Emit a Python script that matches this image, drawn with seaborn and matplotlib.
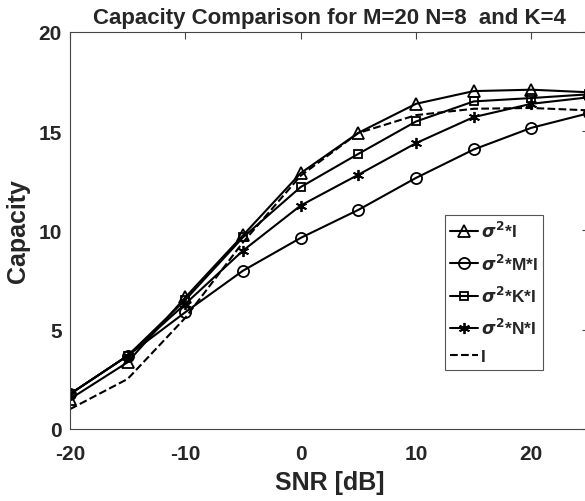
import numpy as np
import pandas as pd
import matplotlib
matplotlib.use("Agg")
import matplotlib.pyplot as plt
import seaborn as sns

snr = [-20, -15, -10, -5, 0, 5, 10, 15, 20, 25]
cap_sigma_I = [1.51, 3.36, 6.63, 9.75, 12.88, 14.91, 16.37, 17.01, 17.08, 16.95]
cap_sigma_MI = [1.76, 3.69, 5.88, 7.97, 9.62, 11.03, 12.64, 14.07, 15.16, 15.9]
cap_sigma_KI = [1.76, 3.69, 6.5, 9.65, 12.18, 13.85, 15.48, 16.49, 16.66, 16.85]
cap_sigma_NI = [1.76, 3.69, 6.3, 8.98, 11.25, 12.8, 14.39, 15.70, 16.37, 16.7]
cap_I = [1.0, 2.52, 5.6, 9.4, 12.75, 14.9, 15.8, 16.12, 16.16, 16.04]

labels = [r"$\sigma^{\mathbf{2}}$*I", r"$\sigma^{\mathbf{2}}$*M*I",
          r"$\sigma^{\mathbf{2}}$*K*I", r"$\sigma^{\mathbf{2}}$*N*I", "I"]
title = "Capacity Comparison for M=20 N=8  and K=4"
xticks = [-20, -10, 0, 10, 20]
yticks = [0, 5, 10, 15, 20]

sns.set_theme(style="white")
plt.rcParams['font.family'] = ['Liberation Sans', 'DejaVu Sans']
plt.rcParams['font.weight'] = 'bold'
plt.rcParams['mathtext.fontset'] = 'dejavusans'
plt.rcParams['axes.unicode_minus'] = False

fig = plt.figure(figsize=(5.85, 5.02), dpi=100)
ax = fig.add_axes([70/585, 1-430/502, 519/585, (430-32.7)/502])

series = [cap_sigma_I, cap_sigma_MI, cap_sigma_KI, cap_sigma_NI, cap_I]
markers = ['^', 'o', 's', (6, 2, 0), None]
msizes = [8, 8, 6, 8, 0]
styles = ['-', '-', '-', '-', '--']
for vals, lab, mk, ms, ls in zip(series, labels, markers, msizes, styles):
    kw = dict(x=snr, y=vals, color='black', linewidth=1.5, linestyle=ls, label=lab, ax=ax)
    if mk is not None:
        kw.update(marker=mk, markersize=ms, markerfacecolor='none',
                  markeredgecolor='black', markeredgewidth=1.3)
    sns.lineplot(**kw)

ax.set_xlim(-20, 25)
ax.set_ylim(0, 20)
ax.set_xticks(xticks)
ax.set_yticks(yticks)
ax.tick_params(direction='in', length=5, width=0.8, color='#444444',
               top=True, right=True, labelsize=15)
ax.tick_params(axis='x', pad=11)
ax.tick_params(axis='y', pad=6)
for lab in ax.get_xticklabels() + ax.get_yticklabels():
    lab.set_fontweight('bold')
for sp in ax.spines.values():
    sp.set_color('#444444')
    sp.set_linewidth(0.8)
ax.set_xlabel("SNR [dB]", fontsize=18, fontweight='bold', labelpad=5)
ax.set_ylabel("Capacity", fontsize=18, fontweight='bold', labelpad=6)
ax.set_title(title, fontsize=16, fontweight='bold', pad=6)

leg = ax.legend(loc='upper left', bbox_to_anchor=(0.7225, 0.5386), fontsize=12.5,
                frameon=True, fancybox=False, edgecolor='#555555', framealpha=1,
                handlelength=1.6, handletextpad=0.15, labelspacing=0.7,
                borderpad=0.3, borderaxespad=0)
leg.get_frame().set_linewidth(0.8)
for t in leg.get_texts():
    t.set_fontweight('bold')

fig.savefig("out.png", dpi=100)
